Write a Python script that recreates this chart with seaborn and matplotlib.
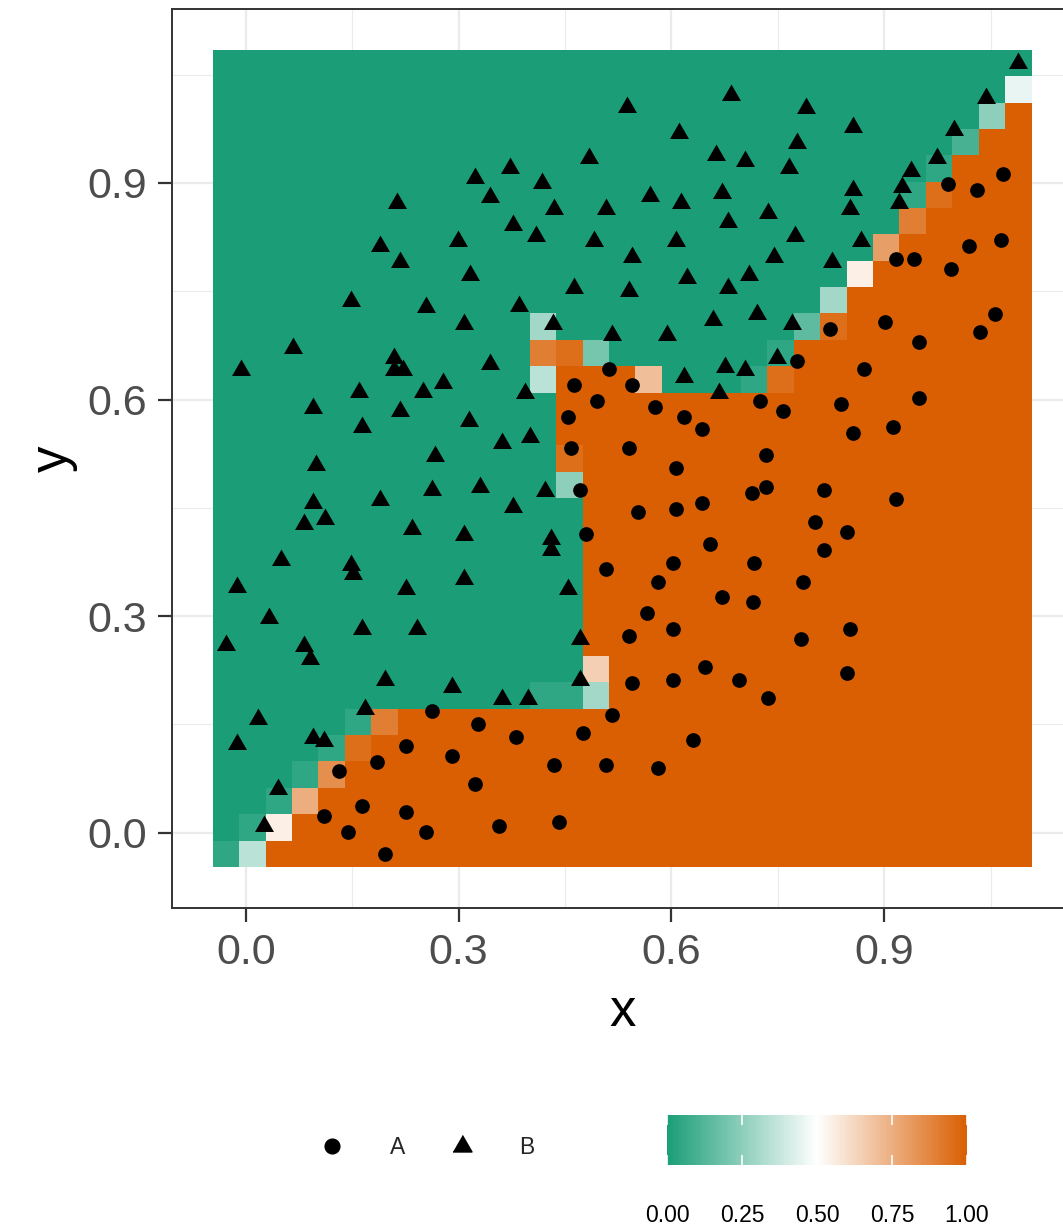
import numpy as np
import pandas as pd
import matplotlib
matplotlib.use("Agg")
import matplotlib.pyplot as plt
from matplotlib.colors import LinearSegmentedColormap
from matplotlib.lines import Line2D
import seaborn as sns

# class A points (drawn as circles)
a_x = [1.067, 0.990, 1.031, 1.065, 1.019, 0.917, 0.942, 0.994, 1.056, 0.901,
       0.512, 0.463, 0.544, 0.495, 0.577, 0.618, 0.643, 0.454, 0.458, 0.540,
       0.606, 0.471, 0.714, 0.553, 0.606, 0.643, 0.480, 0.654, 0.602, 0.508,
       0.581, 0.716, 0.824, 1.035, 0.949, 0.777, 0.871, 0.725, 0.757, 0.839,
       0.949, 0.856, 0.912, 0.733, 0.733, 0.815, 0.917, 0.802, 0.847, 0.815,
       0.785, 0.262, 0.327, 0.226, 0.291, 0.185, 0.131, 0.323, 0.164, 0.110,
       0.226, 0.144, 0.254, 0.196, 0.671, 0.715, 0.566, 0.602, 0.540, 0.647,
       0.544, 0.602, 0.695, 0.516, 0.381, 0.475, 0.630, 0.434, 0.508, 0.581,
       0.357, 0.441, 0.783, 0.852, 0.847, 0.736]
a_y = [0.912, 0.899, 0.890, 0.821, 0.812, 0.795, 0.795, 0.781, 0.719, 0.708,
       0.642, 0.620, 0.620, 0.598, 0.589, 0.576, 0.559, 0.576, 0.533, 0.533,
       0.505, 0.475, 0.471, 0.444, 0.449, 0.457, 0.414, 0.400, 0.374, 0.366,
       0.348, 0.374, 0.698, 0.694, 0.680, 0.654, 0.642, 0.598, 0.584, 0.594,
       0.602, 0.553, 0.562, 0.523, 0.479, 0.475, 0.462, 0.431, 0.417, 0.392,
       0.348, 0.168, 0.150, 0.120, 0.106, 0.098, 0.086, 0.068, 0.037, 0.023,
       0.029, 0.001, 0.001, -0.029, 0.326, 0.320, 0.304, 0.282, 0.273, 0.229,
       0.207, 0.211, 0.211, 0.163, 0.133, 0.138, 0.128, 0.094, 0.094, 0.090,
       0.010, 0.015, 0.269, 0.282, 0.221, 0.186]

# class B points (drawn as triangles)
b_x = [0.323, 0.213, 0.189, 0.217, 0.299, 0.316, 0.148, 0.254, 0.537, 0.684,
       0.611, 0.484, 0.372, 0.663, 0.704, 0.344, 0.418, 0.434, 0.508, 0.570,
       0.613, 0.671, 0.680, 0.377, 0.409, 0.491, 0.606, 0.544, 0.622, 0.709,
       0.463, 0.540, 0.680, 0.385, 0.433, 0.659, 0.721, 1.089, 1.043, 0.998,
       0.974, 0.938, 0.925, 0.921, 0.790, 0.856, 0.777, 0.766, 0.856, 0.852,
       0.736, 0.774, 0.867, 0.745, 0.826, 0.770, 0.308, 0.067, -0.007, 0.209,
       0.209, 0.222, 0.278, 0.250, 0.160, 0.095, 0.217, 0.164, 0.315, 0.267,
       0.099, 0.262, 0.330, 0.189, 0.095, 0.112, 0.082, 0.234, 0.308, 0.050,
       0.148, 0.151, -0.012, 0.226, 0.308, 0.516, 0.594, 0.344, 0.394, 0.618,
       0.676, 0.704, 0.667, 0.401, 0.361, 0.422, 0.377, 0.430, 0.430, 0.454,
       0.749, 0.033, 0.164, 0.241, -0.028, 0.082, 0.091, 0.196, 0.291, 0.168,
       0.017, -0.012, 0.095, 0.110, 0.045, 0.026, 0.471, 0.471, 0.361, 0.398]
b_y = [0.907, 0.872, 0.812, 0.790, 0.820, 0.772, 0.737, 0.728, 1.005, 1.022,
       0.969, 0.935, 0.921, 0.939, 0.930, 0.881, 0.900, 0.864, 0.864, 0.882,
       0.872, 0.886, 0.846, 0.842, 0.826, 0.820, 0.820, 0.798, 0.768, 0.772,
       0.755, 0.751, 0.755, 0.729, 0.704, 0.710, 0.718, 1.066, 1.017, 0.973,
       0.935, 0.917, 0.895, 0.872, 1.004, 0.977, 0.955, 0.921, 0.890, 0.864,
       0.859, 0.826, 0.820, 0.798, 0.790, 0.705, 0.704, 0.671, 0.641, 0.657,
       0.641, 0.641, 0.623, 0.610, 0.610, 0.588, 0.584, 0.562, 0.570, 0.522,
       0.509, 0.475, 0.479, 0.461, 0.457, 0.435, 0.427, 0.421, 0.413, 0.378,
       0.371, 0.359, 0.341, 0.337, 0.351, 0.689, 0.689, 0.649, 0.609, 0.631,
       0.645, 0.641, 0.609, 0.548, 0.540, 0.474, 0.451, 0.407, 0.391, 0.337,
       0.657, 0.298, 0.282, 0.282, 0.260, 0.258, 0.240, 0.211, 0.202, 0.171,
       0.157, 0.123, 0.131, 0.127, 0.061, 0.010, 0.268, 0.211, 0.185, 0.185]

# predicted probability of A on a 31 x 31 grid, bottom row first.
# each character is a level: "0" = 0.00, "1" = 0.05, ... "K" = 1.00
levels = "0123456789ABCDEFGHIJK"
prob_rows = [
    "17" + "K" * 29,
    "01B" + "K" * 28,
    "001F" + "K" * 27,
    "0001H" + "K" * 26,
    "00001J" + "K" * 25,
    "000001I" + "K" * 24,
    "0" * 12 + "116" + "K" * 16,
    "0" * 14 + "D" + "K" * 16,
    "0" * 14 + "K" * 17,
    "0" * 14 + "K" * 17,
    "0" * 14 + "K" * 17,
    "0" * 14 + "K" * 17,
    "0" * 14 + "K" * 17,
    "0" * 14 + "K" * 17,
    "0" * 13 + "5" + "K" * 17,
    "0" * 13 + "J" + "K" * 17,
    "0" * 13 + "K" * 18,
    "0" * 13 + "K" * 18,
    "0" * 12 + "7KKKE0001J" + "K" * 9,
    "0" * 12 + "IJ4" + "0" * 6 + "1" + "K" * 9,
    "0" * 12 + "6" + "0" * 9 + "3J" + "K" * 7,
    "0" * 23 + "6" + "K" * 7,
    "0" * 24 + "B" + "K" * 6,
    "0" * 25 + "G" + "K" * 5,
    "0" * 26 + "I" + "K" * 4,
    "0" * 26 + "1J" + "K" * 3,
    "0" * 27 + "1" + "K" * 3,
    "0" * 28 + "2" + "K" * 2,
    "0" * 29 + "5K",
    "0" * 30 + "9",
    "0" * 31,
]

sns.set_theme(style="white")
plt.rcParams["font.family"] = ["Liberation Sans", "DejaVu Sans"]

points = pd.DataFrame({
    "x": a_x + b_x,
    "y": a_y + b_y,
    "class": ["A"] * len(a_x) + ["B"] * len(b_x),
})

n = len(prob_rows)
gx = np.linspace(points["x"].min(), points["x"].max(), n)
gy = np.linspace(points["y"].min(), points["y"].max(), n)
dx = gx[1] - gx[0]
dy = gy[1] - gy[0]
x_edges = np.append(gx - dx / 2, gx[-1] + dx / 2)
y_edges = np.append(gy - dy / 2, gy[-1] + dy / 2)
prob = np.array([[levels.index(c) / 20 for c in row] for row in prob_rows])

cmap = LinearSegmentedColormap.from_list("gr", ["#1B9E77", "white", "#D95F02"])
tri = [(0, 1.555), (1.347, -0.778), (-1.347, -0.778)]

fig = plt.figure(figsize=(10.63, 12.26), dpi=100)
ax = fig.add_axes([0.1616, 0.2596, 0.8473, 0.7330])
ax.set_facecolor("white")

mesh = ax.pcolormesh(x_edges, y_edges, prob, cmap=cmap, vmin=0, vmax=1,
                     shading="flat", edgecolors="none", antialiased=False, zorder=1)

sns.scatterplot(data=points[points["class"] == "A"], x="x", y="y", color="black",
                marker="o", s=112, linewidth=0, legend=False, ax=ax, zorder=3)
sns.scatterplot(data=points[points["class"] == "B"], x="x", y="y", color="black",
                marker=tri, s=249, linewidth=0, legend=False, ax=ax, zorder=3)

xr = x_edges[-1] - x_edges[0]
yr = y_edges[-1] - y_edges[0]
ax.set_xlim(x_edges[0] - 0.05 * xr, x_edges[-1] + 0.05 * xr)
ax.set_ylim(y_edges[0] - 0.05 * yr, y_edges[-1] + 0.05 * yr)

ticks = [0.0, 0.3, 0.6, 0.9]
ax.set_xticks(ticks)
ax.set_yticks(ticks)
ax.set_xticklabels(["0.0", "0.3", "0.6", "0.9"])
ax.set_yticklabels(["0.0", "0.3", "0.6", "0.9"])
ax.set_xticks([0.15, 0.45, 0.75, 1.05], minor=True)
ax.set_yticks([0.15, 0.45, 0.75, 1.05], minor=True)
ax.grid(which="major", color="#EBEBEB", linewidth=1.6)
ax.grid(which="minor", color="#EBEBEB", linewidth=0.8)
ax.set_axisbelow(True)
ax.tick_params(which="major", bottom=True, left=True, length=10, width=1.6,
               color="#333333", labelsize=31, labelcolor="#4D4D4D", pad=8)
ax.tick_params(which="minor", length=0)
for sp in ax.spines.values():
    sp.set_color("#333333")
    sp.set_linewidth(1.4)

ax.set_xlabel("x", fontsize=38, color="black", labelpad=10)
ax.set_ylabel("y", fontsize=38, color="black", labelpad=7)

handles = [
    Line2D([], [], marker="o", linestyle="", color="black", markersize=10.6),
    Line2D([], [], marker=tri, linestyle="", color="black", markersize=15.8),
]
fig.legend(handles, ["A", "B"], loc="center", bbox_to_anchor=(0.397, 0.0644),
           ncol=2, frameon=False, fontsize=16.5, handlelength=2,
           handletextpad=1.5, columnspacing=1.5, borderaxespad=0)

cax = fig.add_axes([667 / 1063, 1 - 1165 / 1226, 300 / 1063, 50 / 1226])
cb = fig.colorbar(mesh, cax=cax, orientation="horizontal",
                  ticks=[0, 0.25, 0.5, 0.75, 1])
cb.outline.set_visible(False)
cb.set_ticklabels(["0.00", "0.25", "0.50", "0.75", "1.00"])
cax.set_axisbelow(False)
cax.tick_params(direction="in", top=True, bottom=True, length=7, width=1.2,
                color="white", labelcolor="black", labelsize=16.5, pad=28)

fig.savefig("out.png", dpi=100)
